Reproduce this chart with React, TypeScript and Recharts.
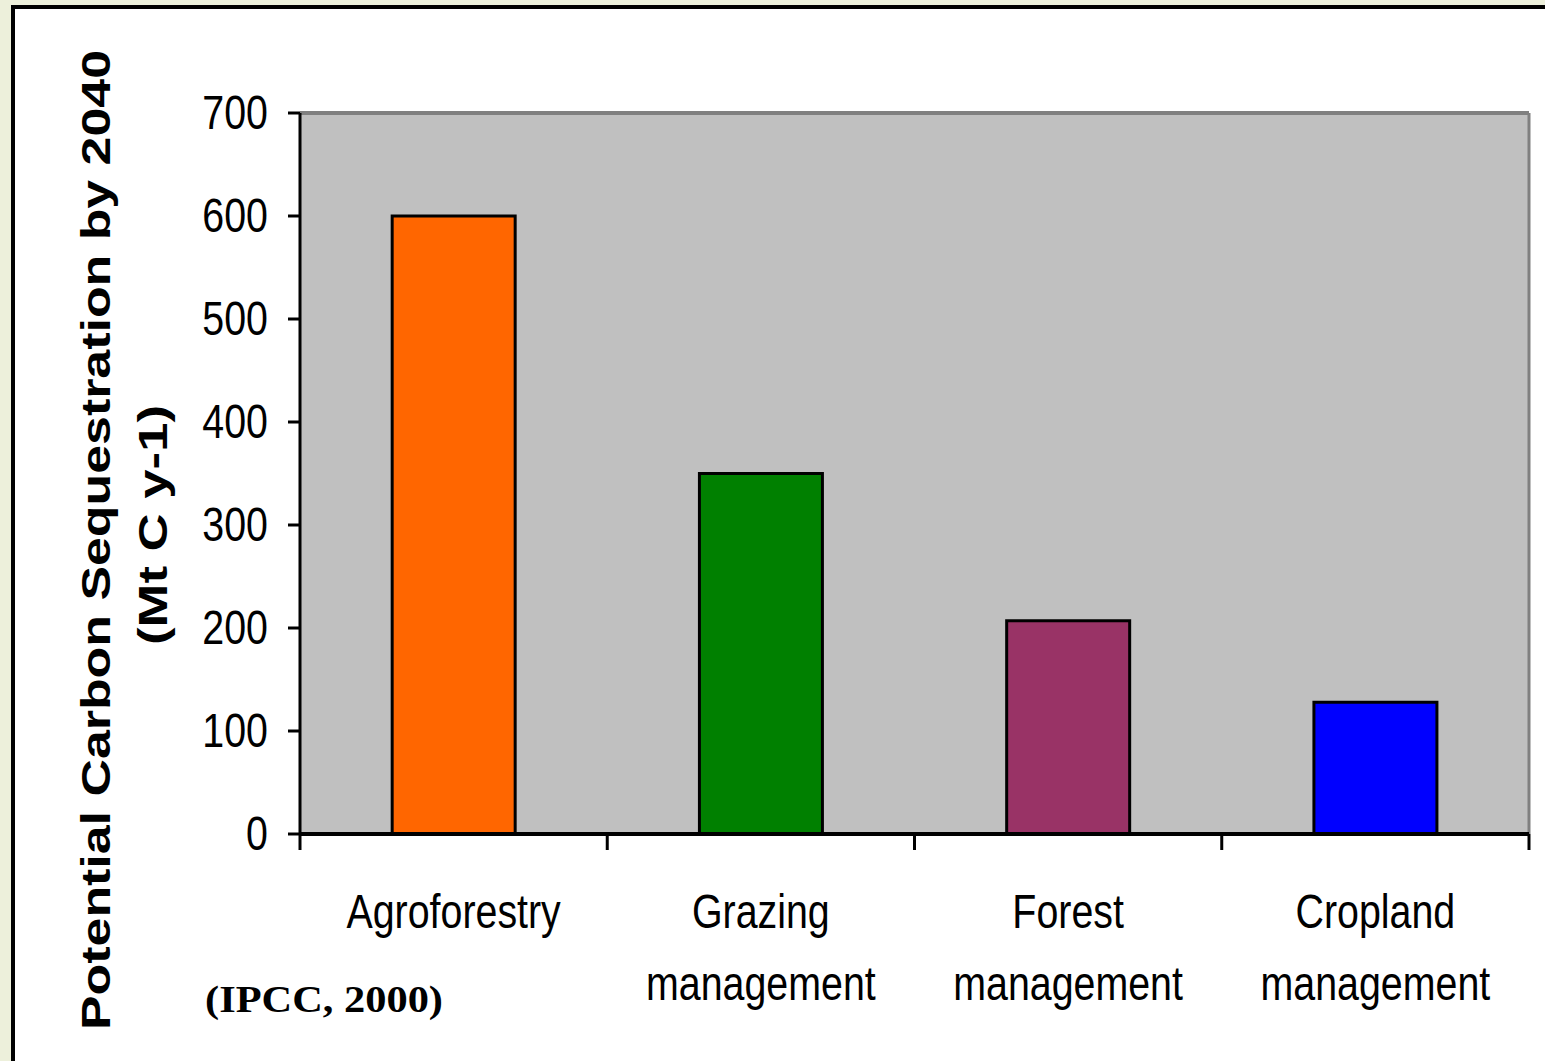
import React from 'react';
import { BarChart, Bar, Cell, XAxis, YAxis, CartesianGrid, ReferenceLine } from 'recharts';

const categories = ['Agroforestry', 'Grazing management', 'Forest management', 'Cropland management'];
const sequestration = [600, 350, 207, 128];
const barColors = ['#FF6600', '#008000', '#993366', '#0000FF'];
const yTicks = [0, 100, 200, 300, 400, 500, 600, 700];

const data = categories.map((name, i) => ({ name, value: sequestration[i] }));

const SANS = '"Liberation Sans", Arial, sans-serif';
const NARROW_SCALE = 0.82; // no Arial Narrow here, so squeeze Liberation Sans

// two-line category labels plus boundary tick marks (band edges from payload.offset)
const CategoryTick = (props: any) => {
    const { x, y, payload, index, visibleTicksCount } = props;
    const half = payload.offset || 0;
    const words = String(payload.value).split(' ');
    const lines = words.length > 1 ? [words[0], words.slice(1).join(' ')] : words;
    const isLast = index === visibleTicksCount - 1;
    return (
        <g>
            <line x1={x - half} x2={x - half} y1={y} y2={y + 16} stroke="#000" strokeWidth={3} />
            {isLast && <line x1={x + half} x2={x + half} y1={y} y2={y + 16} stroke="#000" strokeWidth={3} />}
            <text
                x={x}
                y={y}
                textAnchor="middle"
                fontFamily={SANS}
                fontSize={48}
                fill="#000"
                transform={`translate(${x} 0) scale(${NARROW_SCALE} 1) translate(${-x} 0)`}
            >
                {lines.map((l, i) => (
                    <tspan key={i} x={x} dy={i === 0 ? 94 : 72}>{l}</tspan>
                ))}
            </text>
        </g>
    );
};

const ValueTick = (props: any) => {
    const { x, y, payload } = props;
    return (
        <text
            x={x}
            y={y}
            dy={16}
            textAnchor="end"
            fontFamily={SANS}
            fontSize={48}
            fill="#000"
            transform={`translate(${x} 0) scale(${NARROW_SCALE} 1) translate(${-x} 0)`}
        >
            {payload.value}
        </text>
    );
};

export default function App() {
    return (
        <div style={{ position: 'absolute', left: 0, top: 0, width: 1545, height: 1061, overflow: 'hidden', background: '#EDF0DB' }}>
            <div style={{ position: 'absolute', left: 11, top: 5, width: 1600, height: 1200, background: '#fff', border: '4px solid #000', boxSizing: 'border-box' }} />
            <div style={{ position: 'absolute', left: 0, top: 0 }}>
                <BarChart width={1545} height={1061} data={data} margin={{ top: 113, right: 16, left: 0, bottom: 0 }} barCategoryGap="30%">
                    <CartesianGrid
                        fill="#C0C0C0"
                        horizontal={false}
                        stroke="#808080"
                        strokeWidth={3}
                        verticalCoordinatesGenerator={({ offset }: any) => [offset.left + offset.width]}
                    />
                    <XAxis
                        dataKey="name"
                        height={227}
                        interval={0}
                        axisLine={{ stroke: '#000', strokeWidth: 4 }}
                        tickLine={false}
                        tickSize={0}
                        tickMargin={0}
                        tick={<CategoryTick />}
                    />
                    <YAxis
                        width={300}
                        domain={[0, 700]}
                        ticks={yTicks}
                        interval={0}
                        tickSize={12}
                        tickMargin={20}
                        tick={<ValueTick />}
                        tickLine={{ stroke: '#000', strokeWidth: 3 }}
                        axisLine={{ stroke: '#000', strokeWidth: 3 }}
                    />
                    <ReferenceLine y={700} stroke="#808080" strokeWidth={4} />
                    <Bar dataKey="value" stroke="#000" strokeWidth={3} isAnimationActive={false}>
                        {data.map((d, i) => (
                            <Cell key={d.name} fill={barColors[i]} />
                        ))}
                    </Bar>
                </BarChart>
            </div>
            <svg width={1545} height={1061} style={{ position: 'absolute', left: 0, top: 0, pointerEvents: 'none' }}>
                <text
                    x={110}
                    y={540}
                    transform="rotate(-90 110 540)"
                    textAnchor="middle"
                    fontFamily={SANS}
                    fontWeight="bold"
                    fontSize={40}
                    textLength={980}
                    lengthAdjust="spacingAndGlyphs"
                    fill="#000"
                >
                    Potential Carbon Sequestration by 2040
                </text>
                <text
                    x={167}
                    y={525}
                    transform="rotate(-90 167 525)"
                    textAnchor="middle"
                    fontFamily={SANS}
                    fontWeight="bold"
                    fontSize={40}
                    textLength={240}
                    lengthAdjust="spacingAndGlyphs"
                    fill="#000"
                >
                    (Mt C y-1)
                </text>
                <text
                    x={205}
                    y={1012}
                    fontFamily='"Liberation Serif", "DejaVu Serif", serif'
                    fontWeight="bold"
                    fontSize={37}
                    textLength={238}
                    lengthAdjust="spacingAndGlyphs"
                    fill="#000"
                >
                    (IPCC, 2000)
                </text>
            </svg>
        </div>
    );
}
